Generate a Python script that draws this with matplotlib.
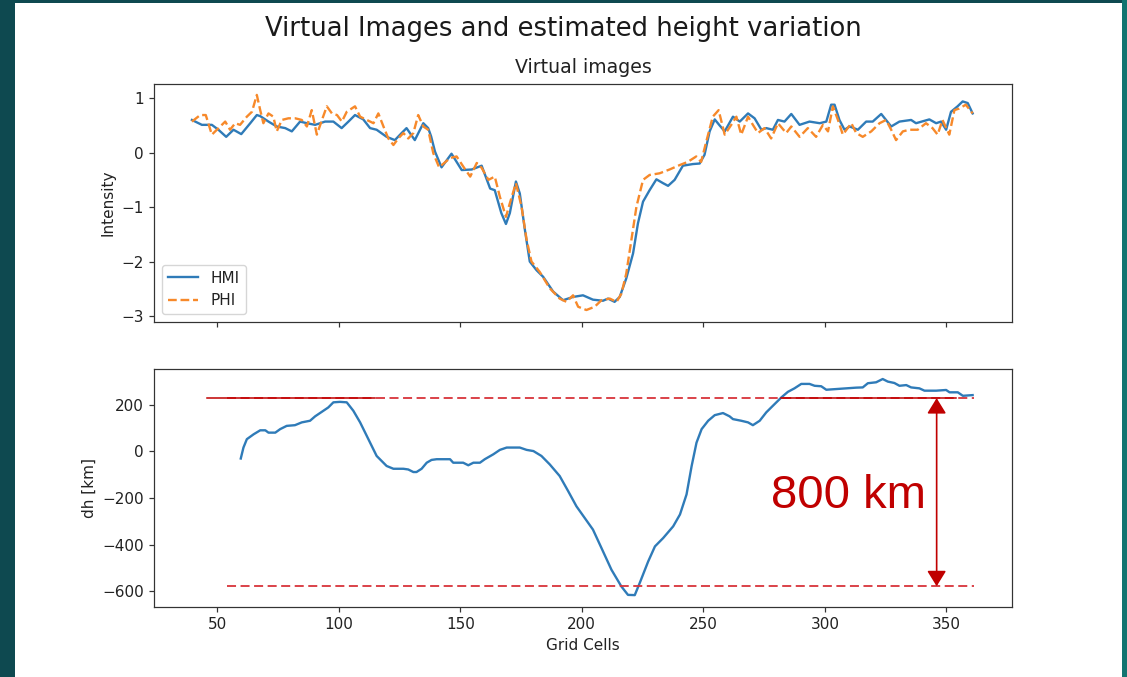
import numpy as np
import matplotlib
matplotlib.use("Agg")
import matplotlib.pyplot as plt
from matplotlib.patches import Rectangle

# ---------------- data ----------------
hmi_x = [39.6, 43.7, 47.8, 50.5, 53.7, 56.7, 59.9, 63.6, 66.3, 67.7, 71.1, 74.5, 78.0, 80.7,
         84.1, 86.9, 90.3, 94.4, 97.8, 101.2, 104.0, 106.7, 110.1, 112.9, 115.6, 119.7, 123.1,
         125.9, 127.9, 131.3, 134.8, 136.8, 138.0, 139.6, 142.3, 146.4, 150.6, 154.7, 158.8,
         162.3, 164.2, 166.9, 168.8, 170.4, 172.9, 174.5, 176.6, 178.6, 181.4, 184.1, 188.2,
         192.3, 196.4, 200.5, 204.6, 208.7, 210.8, 213.5, 215.6, 218.3, 221.1, 223.1, 225.2,
         227.9, 230.7, 233.4, 235.5, 238.2, 241.6, 245.7, 248.5, 250.5, 252.6, 254.7, 256.7,
         258.8, 262.2, 265.0, 268.4, 271.1, 273.9, 275.9, 278.6, 280.7, 283.4, 286.2, 289.6,
         293.7, 297.9, 300.6, 302.6, 304.0, 306.0, 308.1, 310.2, 313.6, 317.0, 319.7, 323.2,
         327.3, 330.7, 335.5, 337.5, 343.0, 345.8, 347.8, 349.9, 351.9, 354.6, 356.7, 358.8,
         360.8]
hmi_y = [0.60, 0.51, 0.51, 0.42, 0.29, 0.42, 0.34, 0.54, 0.69, 0.67, 0.57, 0.48, 0.45, 0.39,
         0.57, 0.54, 0.51, 0.57, 0.57, 0.45, 0.57, 0.69, 0.61, 0.45, 0.42, 0.29, 0.23,
         0.36, 0.45, 0.23, 0.54, 0.45, 0.30, 0.02, -0.27, -0.02, -0.32, -0.31, -0.24,
         -0.66, -0.69, -1.11, -1.31, -1.11, -0.53, -0.75, -1.42, -2.00, -2.16, -2.28, -2.55,
         -2.71, -2.65, -2.62, -2.70, -2.72, -2.68, -2.74, -2.65, -2.31, -1.85, -1.30, -0.90,
         -0.69, -0.49, -0.56, -0.61, -0.50, -0.24, -0.21, -0.20, -0.04, 0.39, 0.61, 0.50,
         0.39, 0.66, 0.57, 0.72, 0.63, 0.42, 0.45, 0.42, 0.60, 0.57, 0.71, 0.51,
         0.57, 0.54, 0.57, 0.88, 0.88, 0.60, 0.42, 0.48, 0.42, 0.57, 0.57, 0.71,
         0.48, 0.57, 0.60, 0.54, 0.61, 0.54, 0.57, 0.42, 0.75, 0.85, 0.94, 0.91,
         0.72]

phi_x = [39.6, 43.0, 45.3, 47.8, 51.2, 53.3, 55.3, 57.4, 59.4, 62.2, 64.3, 66.3, 67.7, 69.0,
         71.1, 73.1, 74.5, 76.6, 79.3, 82.1, 84.8, 86.9, 88.9, 91.0, 93.1, 95.1, 97.2, 99.3,
         101.3, 103.3, 106.7, 108.8, 111.5, 114.3, 116.3, 118.4, 120.4, 122.5, 124.5, 126.6,
         128.6, 130.7, 132.7, 134.8, 136.8, 138.9, 141.3, 145.8, 148.5, 151.3, 154.1, 156.8,
         158.8, 161.6, 164.2, 166.3, 168.8, 170.4, 172.9, 175.2, 177.3, 179.3, 182.7, 186.8,
         190.9, 193.7, 196.4, 198.5, 201.9, 205.3, 208.1, 211.5, 214.3, 216.3, 218.3, 220.4,
         222.5, 225.2, 227.9, 232.0, 236.1, 240.2, 243.6, 247.1, 249.1, 251.2, 253.9, 256.3,
         258.8, 261.5, 263.6, 265.6, 268.4, 270.4, 272.5, 275.2, 277.9, 280.7, 284.1, 286.2,
         289.6, 293.0, 296.4, 299.2, 301.3, 303.3, 305.4, 307.4, 310.9, 312.9, 315.6, 319.1,
         322.5, 325.2, 327.3, 329.3, 332.1, 334.8, 338.2, 341.6, 344.3, 346.4, 348.4, 351.2,
         353.3, 355.3, 358.0, 360.8]
phi_y = [0.57, 0.69, 0.69, 0.33, 0.48, 0.57, 0.42, 0.54, 0.51, 0.66, 0.75, 1.06, 0.78, 0.54,
         0.72, 0.66, 0.39, 0.60, 0.63, 0.63, 0.60, 0.48, 0.78, 0.33, 0.60, 0.85, 0.72, 0.69,
         0.57, 0.75, 0.85, 0.66, 0.60, 0.54, 0.72, 0.48, 0.26, 0.14, 0.26, 0.36,
         0.26, 0.36, 0.69, 0.48, 0.42, -0.01, -0.27, -0.10, -0.07, -0.26, -0.44, -0.19,
         -0.28, -0.50, -0.44, -0.81, -1.18, -0.93, -0.56, -0.99, -1.60, -2.00, -2.19, -2.49,
         -2.68, -2.74, -2.62, -2.83, -2.89, -2.83, -2.71, -2.68, -2.74, -2.59, -2.22, -1.60,
         -0.99, -0.50, -0.41, -0.38, -0.31, -0.23, -0.17, -0.07, -0.17, 0.20, 0.66, 0.78,
         0.33, 0.51, 0.66, 0.33, 0.66, 0.51, 0.36, 0.45, 0.26, 0.54, 0.36, 0.48,
         0.29, 0.45, 0.29, 0.51, 0.39, 0.85, 0.60, 0.33, 0.54, 0.36, 0.29, 0.39,
         0.54, 0.60, 0.42, 0.23, 0.39, 0.42, 0.42, 0.54, 0.45, 0.33, 0.60, 0.33,
         0.78, 0.81, 0.88, 0.72]

dh_x = [59.7, 60.8, 62.2, 65.0, 67.7, 69.8, 71.1, 73.9, 75.9, 78.6, 82.0, 84.8, 88.2, 90.3,
        93.0, 95.7, 97.8, 100.5, 103.3, 106.0, 108.8, 112.2, 115.6, 119.7, 122.5, 126.6,
        128.6, 130.7, 132.0, 134.1, 136.2, 138.2, 140.3, 145.8, 147.1, 151.2, 153.3, 155.4,
        158.1, 160.1, 163.6, 166.3, 169.1, 174.5, 177.3, 180.1, 183.4, 186.8, 190.9, 194.4,
        197.8, 201.2, 204.6, 208.1, 212.2, 216.3, 219.0, 221.8, 223.8, 227.3, 230.1, 233.5,
        237.6, 240.4, 243.1, 245.2, 247.2, 249.3, 252.0, 254.7, 258.1, 260.8, 262.2, 265.6,
        268.4, 270.4, 273.2, 275.9, 278.6, 282.1, 284.8, 287.5, 290.3, 293.7, 295.8, 298.5,
        300.6, 304.7, 308.8, 312.9, 315.6, 317.7, 321.1, 323.8, 325.9, 328.6, 330.7, 333.5,
        335.5, 338.9, 341.0, 345.8, 349.9, 351.3, 354.7, 356.8, 360.8]
dh_y = [-31, 16, 52, 73, 90, 90, 80, 80, 95, 109, 112, 124, 131, 150,
        169, 188, 210, 212, 210, 174, 124, 52, -20, -63, -75, -75,
        -78, -89, -89, -75, -49, -37, -34, -34, -49, -49, -60, -49,
        -49, -34, -13, 6, 16, 16, 6, 1, -20, -56, -106, -171,
        -236, -286, -336, -415, -508, -580, -616, -617, -566, -473, -408, -372,
        -322, -271, -185, -63, 37, 95, 131, 155, 164, 150, 138, 131,
        124, 112, 131, 167, 195, 231, 255, 270, 289, 289, 281, 279,
        264, 267, 270, 273, 274, 292, 296, 310, 299, 293, 281, 284,
        274, 270, 260, 260, 263, 253, 253, 238, 241]

top_level = 228
bottom_level = -579
label_text = "800 km"

# ---------------- figure ----------------
plt.rcParams['font.family'] = ['DejaVu Sans']
W, H = 1127, 677
fig = plt.figure(figsize=(W / 100, H / 100), dpi=100, facecolor='#0e4950')
fig.patches.append(Rectangle((1122 / W, 0), 5 / W, 1, transform=fig.transFigure,
                             facecolor='#127470', edgecolor='none', zorder=-2))
fig.patches.append(Rectangle((15 / W, 0), (1122 - 15) / W, (677 - 3) / H,
                             transform=fig.transFigure, facecolor='white',
                             edgecolor='none', zorder=-1))

def fx(px):
    return px / W

def fy(py):
    return 1 - py / H

ax1 = fig.add_axes([fx(154), fy(322), fx(1012) - fx(154), fy(84) - fy(322)])
ax2 = fig.add_axes([fx(154), fy(607), fx(1012) - fx(154), fy(369) - fy(607)], sharex=ax1)

fs = 11
txt = '#222222'
for ax in (ax1, ax2):
    for s in ax.spines.values():
        s.set_linewidth(0.88)
        s.set_color('#333333')
    ax.tick_params(labelsize=fs, length=3.85, width=0.88, labelcolor=txt, color='#333333')

ax1.plot(hmi_x, hmi_y, color='#2f7bb8', lw=1.7, label='HMI')
ax1.plot(phi_x, phi_y, color='#f7892a', lw=1.7, ls='--', label='PHI')
ax1.set_ylabel('Intensity', fontsize=fs, color=txt)
ax1.set_title('Virtual images', fontsize=13.6, color=txt, pad=8)
ax1.set_yticks([-3, -2, -1, 0, 1])
ax1.tick_params(labelbottom=False)
leg = ax1.legend(loc='lower left', fontsize=fs)
for t in leg.get_texts():
    t.set_color(txt)

ax2.plot(dh_x, dh_y, color='#2f7bb8', lw=1.7)
ax2.set_ylabel('dh [km]', fontsize=fs, color=txt)
ax2.set_xlabel('Grid Cells', fontsize=fs, color=txt)
ax2.set_yticks([-600, -400, -200, 0, 200])
ax2.set_xticks([50, 100, 150, 200, 250, 300, 350])
ax2.set_xlim(24, 377)
ax2.set_ylim(-668, 353)
ax1.set_ylim(-3.11, 1.26)

dred = '#C00000'
ax2.plot([54, 361.5], [top_level, top_level], color='#d8343a', lw=1.3, ls=(0, (5, 2.5)))
ax2.plot([54, 361.5], [bottom_level, bottom_level], color='#d8343a', lw=1.3, ls=(0, (5, 2.5)))
ax2.plot([46, 115], [top_level, top_level], color=dred, lw=1.1)
ax2.plot([282, 354], [top_level, top_level], color=dred, lw=1.1)
ax2.annotate('', xy=(346, bottom_level), xytext=(346, top_level),
             arrowprops=dict(arrowstyle='<|-|>,head_length=0.47,head_width=0.29',
                             mutation_scale=20, color=dred, lw=1.2,
                             shrinkA=0, shrinkB=0))
ax2.text(341.8, -245, label_text, color=dred, fontsize=34, family='Liberation Sans',
         ha='right', va='baseline')

fig.suptitle('Virtual Images and estimated height variation', fontsize=18.6, y=fy(28.5),
             va='center', color='#1a1a1a')

fig.savefig('out.png', dpi=100, facecolor=fig.get_facecolor())
